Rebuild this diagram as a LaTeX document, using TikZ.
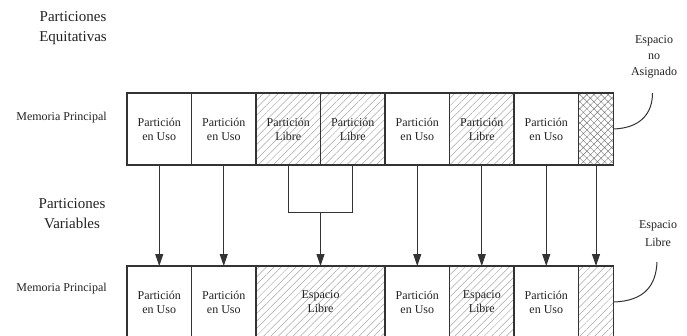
\documentclass[tikz,border=0pt]{standalone}
\usepackage{fontspec}
\setmainfont{Liberation Serif}
\usetikzlibrary{arrows.meta,patterns.meta}

\definecolor{ink}{HTML}{222222}
\definecolor{frame}{HTML}{333333}
\definecolor{hatchc}{HTML}{A8A8A8}
\definecolor{crossc}{HTML}{7A7A7A}

\tikzset{
  x=1pt, y=-1pt,
  cell/.style={draw=frame, line width=1.1pt, rectangle, inner sep=0pt, outer sep=0pt,
    minimum height=72pt, minimum width=64.5pt, align=center, text=ink,
    font=\fontsize{12}{14}\selectfont},
  freecell/.style={cell, pattern={Lines[angle=45,distance=5.2pt,line width=0.5pt]},
    pattern color=hatchc},
  voidcell/.style={cell, pattern={Hatch[angle=45,distance=5pt,line width=0.45pt]},
    pattern color=crossc},
  narrow/.style={minimum width=35pt},
  heading/.style={align=center, text=ink, font=\fontsize{15}{20}\selectfont},
  rowlabel/.style={text=ink, font=\fontsize{12}{14}\selectfont},
  sidelabel/.style={align=center, text=ink},
  link/.style={draw=frame, line width=1pt},
  arr/.style={link, -{Triangle[length=12pt,width=8pt]}},
}

\begin{document}
\begin{tikzpicture}
\useasboundingbox (0,0) rectangle (687,335);

% headings and row labels
\node[heading] (hEq) at (73,28) {Particiones\\Equitativas};
\node[heading] (hVar) at (72,214) {Particiones\\Variables};
\node[rowlabel] (mTop) at (61.5,118) {Memoria Principal};
\node[rowlabel] (mBot) at (61.5,289) {Memoria Principal};

% fixed partitions
\node[cell]     (t1) at (159.25,129) {Partición\\en Uso};
\node[cell]     (t2) at (223.75,129) {Partición\\en Uso};
\node[freecell] (t3) at (288.25,129) {Partición\\Libre};
\node[freecell] (t4) at (352.75,129) {Partición\\Libre};
\node[cell]     (t5) at (417.25,129) {Partición\\en Uso};
\node[freecell] (t6) at (481.75,129) {Partición\\Libre};
\node[cell]     (t7) at (546.25,129) {Partición\\en Uso};
\node[voidcell, narrow] (t8) at (596,129) {};

% variable partitions
\node[cell]     (b1) at (159.25,302) {Partición\\en Uso};
\node[cell]     (b2) at (223.75,302) {Partición\\en Uso};
\node[freecell, minimum width=129pt] (b3) at (320.5,302) {Espacio\\Libre};
\node[cell]     (b4) at (417.25,302) {Partición\\en Uso};
\node[freecell] (b5) at (481.75,302) {Espacio\\Libre};
\node[cell]     (b6) at (546.25,302) {Partición\\en Uso};
\node[freecell, narrow] (b7) at (596,302) {};

% side notes
\node[sidelabel, font=\fontsize{12}{16}\selectfont] (na) at (654,57) {Espacio\\no\\Asignado};
\node[sidelabel, font=\fontsize{12}{18}\selectfont] (el) at (658,234) {Espacio\\Libre};
\coordinate (naEnd) at (652.5,93);
\coordinate (elEnd) at (657,262);

% mapping arrows
\draw[arr] (t1.south) -- (b1.north);
\draw[arr] (t2.south) -- (b2.north);
\coordinate (merge) at (320.5,212.5);
\draw[link] (t3.south) |- (merge) -| (t4.south);
\draw[arr] (merge) -- (b3.north);
\draw[arr] (t5.south) -- (b4.north);
\draw[arr] (t6.south) -- (b5.north);
\draw[arr] (t7.south) -- (b6.north);
\draw[arr] (t8.south) -- (b7.north);

% curved callouts
\draw[link] (t8.east) .. controls (641,128) and (652.5,113) .. (naEnd);
\draw[link] (b7.east) .. controls (645,301) and (656,285) .. (elEnd);
\end{tikzpicture}
\end{document}
